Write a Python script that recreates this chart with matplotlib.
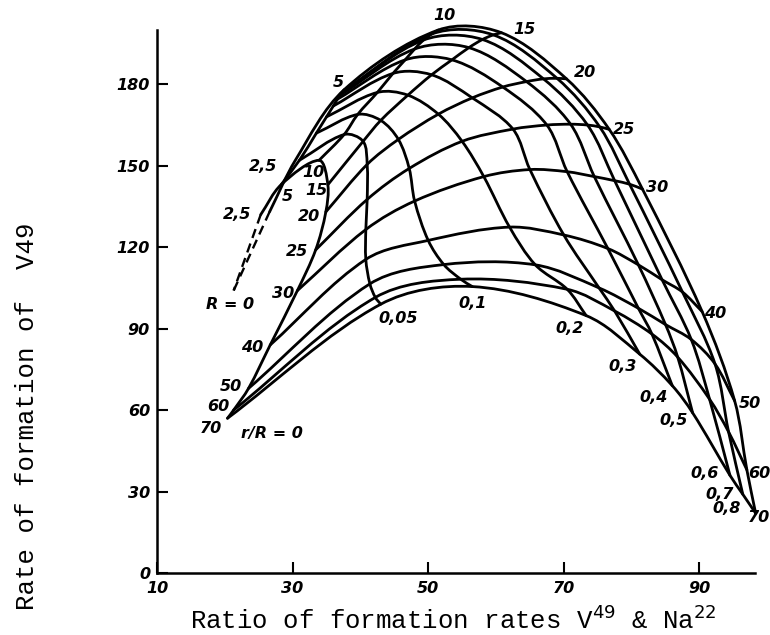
import numpy as np
import matplotlib
matplotlib.use("Agg")
import matplotlib.pyplot as plt
from matplotlib.path import Path
from matplotlib.patches import PathPatch

# valeurs des courbes
R_values = [70, 60, 50, 40, 30, 25, 20, 15, 10, 5]
r_ratio = [0, 0.05, 0.1, 0.2, 0.3, 0.4, 0.5, 0.6, 0.7, 0.8]

# noeuds du réseau : une ligne par R, une colonne par r/R
grid_x = [
    [20.4, 43.0, 56.5, 73.3, 81.2, 86.0, 89.0, 94.5, 96.4, 98.3],  # 70
    [21.3, 42.2, 54.8, 70.5, 77.5, 83.0, 86.8, 91.5, 94.3, 97.0],  # 60
    [23.5, 41.4, 52.3, 65.8, 75.2, 81.0, 85.0, 88.8, 92.3, 95.2],  # 50
    [26.7, 40.8, 50.0, 62.0, 70.0, 76.5, 81.0, 84.5, 87.5, 90.4],  # 40
    [30.7, 40.8, 48.0, 58.2, 65.0, 70.5, 74.5, 77.5, 79.7, 81.6],  # 30
    [33.4, 41.0, 47.2, 55.0, 62.5, 67.5, 71.0, 73.5, 75.3, 76.7],  # 25
    [34.9, 41.0, 45.6, 51.5, 56.5, 61.0, 64.5, 67.0, 69.0, 70.4],  # 20
    [35.2, 40.4, 43.0, 47.0, 50.5, 53.5, 56.0, 58.0, 59.6, 60.8],  # 15
    [33.9, 37.6, 39.6, 42.5, 44.8, 46.6, 48.0, 49.3, 50.5, 51.5],  # 10
    [28.3, 31.0, 33.5, 35.0, 36.0, 36.6, 37.0, 37.3, 37.5, 37.6],  # 5
]
grid_y = [
    [57, 99, 105.5, 94.8, 80.6, 69, 59, 36, 29, 22],
    [60, 101.5, 108.2, 104.5, 96.5, 88, 79.5, 64, 52, 38],
    [68, 106.5, 113.6, 113.5, 105, 97.5, 91.5, 86, 77, 63.4],
    [84, 115.5, 122.5, 127.4, 124.5, 119.5, 113.5, 108, 103.5, 96.3],
    [104, 126.5, 137, 146, 148.6, 147.8, 146, 144.5, 143.2, 141.4],
    [119, 137.6, 149, 159, 163.5, 165, 165.3, 165, 164.3, 163.4],
    [133, 150.5, 159.7, 169, 175, 179, 181, 182, 182.2, 182],
    [143, 159, 166.7, 176, 183.5, 189, 193.5, 196.5, 198.2, 199],
    [152, 161.5, 168.9, 177, 184, 189, 193, 196.3, 198.5, 200],
    [143, 152, 162, 168, 172, 174.5, 176, 177, 177.6, 178],
]

# prolongements vers R = 2,5 puis R = 0 (dernier point en tirets)
tail0_x = [28.3, 25.3, 21.3]
tail0_y = [143, 132, 104]
tail8_x = [37.6, 30.4, 26.6, 21.3]
tail8_y = [178, 152, 133, 104]

x_ticks = [10, 30, 50, 70, 90]
y_ticks = [0, 30, 60, 90, 120, 150, 180]

# décalages des étiquettes (pixels)
left_off = [(-17, -10), (-15, 4), (-18, 2), (-18, -3), (-14, -3), (-19, -2),
            (-17, -5), (-11, -6), (-6, -12), (6, -12)]
right_off = [(3, -4), (12, -4), (15, -3), (13, -2), (15, 2), (15, 0),
             (18, 6), (23, 3), (6, 14), (-6, 7)]
bottom_off = [None, (17, -14), (0, -17), (-17, -13), (-17, -12), (-19, -12),
              (-19, -8), (-25, 2), (-23, 0), (-29, 5)]

SX, SY = 6.79, 2.711  # pixels par unité, pour le lissage

fonte = dict(family=["Liberation Sans Narrow", "DejaVu Sans"],
             weight="bold", style="italic", size=11.5)


def courbe(ax, xs, ys, **kw):
    pts = np.column_stack([xs, ys]).astype(float)
    n = len(pts)
    d = np.linalg.norm(np.diff(pts, axis=0) * np.array([SX, SY]), axis=1)
    tang = np.zeros_like(pts)
    tang[0] = (pts[1] - pts[0]) / d[0]
    tang[-1] = (pts[-1] - pts[-2]) / d[-1]
    for i in range(1, n - 1):
        tang[i] = (pts[i + 1] - pts[i - 1]) / (d[i - 1] + d[i])
    verts = [pts[0]]
    codes = [Path.MOVETO]
    for i in range(n - 1):
        verts += [pts[i] + tang[i] * d[i] / 3,
                  pts[i + 1] - tang[i + 1] * d[i] / 3,
                  pts[i + 1]]
        codes += [Path.CURVE4] * 3
    ax.add_patch(PathPatch(Path(verts, codes), fill=False, color="black",
                           lw=2.0, clip_on=False, capstyle="round", **kw))


def etiquette(ax, texte, x, y, off):
    ax.annotate(texte, xy=(x, y), xytext=off, textcoords="offset pixels",
                ha="center", va="center", zorder=5, annotation_clip=False,
                **fonte)


fig = plt.figure(figsize=(7.7, 6.35), dpi=100)
ax = fig.add_axes([157 / 770, 1 - 573 / 635, 598 / 770, 543 / 635])

# courbes R = const
for i in range(len(R_values)):
    courbe(ax, grid_x[i], grid_y[i])

# courbes r/R = const
nj = len(r_ratio)
for j in range(nj):
    xs = [grid_x[i][j] for i in range(len(R_values))]
    ys = [grid_y[i][j] for i in range(len(R_values))]
    if j == 0:
        xs += tail0_x[1:-1]
        ys += tail0_y[1:-1]
    if j == nj - 1:
        xs += tail8_x[1:-1]
        ys += tail8_y[1:-1]
    courbe(ax, xs, ys)

# R = 0 en tirets
for tx, ty in [(tail0_x, tail0_y), (tail8_x, tail8_y)]:
    ax.plot(tx[-2:], ty[-2:], color="black", lw=1.7, ls=(0, (4, 2.5)),
            clip_on=False)

# étiquettes
def fmt(v):
    return ("%g" % v).replace(".", ",")

for i, R in enumerate(R_values):
    etiquette(ax, fmt(R), grid_x[i][0], grid_y[i][0], left_off[i])
    etiquette(ax, fmt(R), grid_x[i][-1], grid_y[i][-1], right_off[i])
for j in range(1, nj):
    etiquette(ax, fmt(r_ratio[j]), grid_x[0][j], grid_y[0][j], bottom_off[j])
etiquette(ax, "2,5", tail0_x[1], tail0_y[1], (-24, 0))
etiquette(ax, "2,5", tail8_x[1], tail8_y[1], (-32, -6))
etiquette(ax, "R = 0", tail0_x[-1], tail0_y[-1], (-4, -14))
etiquette(ax, "r/R = 0", grid_x[0][0], grid_y[0][0], (44, -15))

ax.set_xlim(10, 98.2)
ax.set_ylim(0, 200)
ax.set_xticks(x_ticks)
ax.set_yticks(y_ticks)
ax.set_xticklabels([str(v) for v in x_ticks], **fonte)
ax.set_yticklabels([str(v) for v in y_ticks], **fonte)
ax.tick_params(direction="in", length=8, width=1.5, pad=5)
ax.tick_params(axis="x", pad=6)
for s in ["top", "right"]:
    ax.spines[s].set_visible(False)
for s in ["left", "bottom"]:
    ax.spines[s].set_linewidth(1.8)

mono = ["Liberation Mono", "DejaVu Sans Mono"]
fig.text(190 / 770, 1 - 620 / 635, "Ratio of formation rates V$^{49}$ & Na$^{22}$",
         family=mono, size=18.5, ha="left", va="center")
fig.text(27 / 770, 1 - 416 / 635, "Rate of formation of  V49",
         family=mono, size=18.5, rotation=90, ha="center", va="center")

fig.savefig("out.png", dpi=100)
